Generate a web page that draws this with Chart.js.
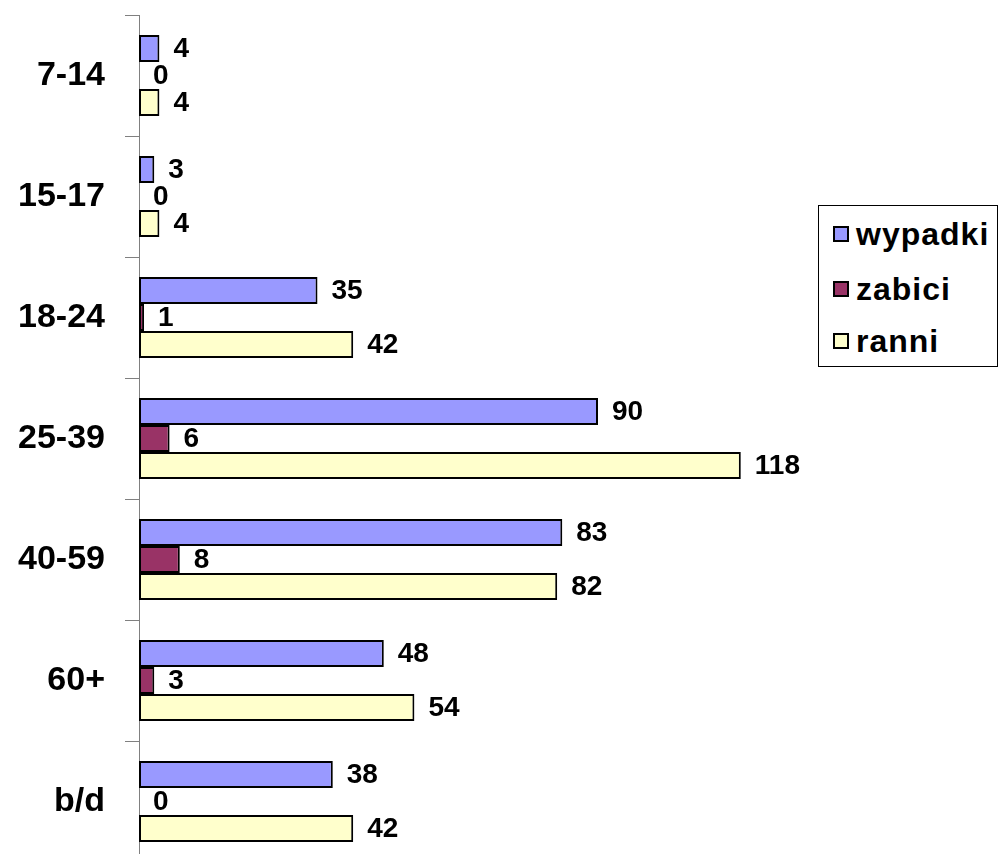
<!DOCTYPE html>
<html>
<head>
<meta charset="utf-8">
<script src="https://cdn.jsdelivr.net/npm/chart.js@4/dist/chart.umd.min.js"></script>
<style>
    html, body { margin: 0; padding: 0; background: #fff; overflow: hidden; width: 1000px; height: 854px; }
    #wrap { position: relative; width: 1000px; height: 854px; }
    #chart { position: absolute; left: 0; top: 0; }
    #legend {
        position: absolute; left: 818px; top: 205px; width: 180px; height: 162px;
        border: 1px solid #000; background: #fff; box-sizing: border-box;
        font-family: Arial, "Liberation Sans", sans-serif; font-weight: bold; font-size: 32px;
        letter-spacing: 1px;
    }
    .item { position: absolute; left: 14px; display: flex; align-items: center; height: 36px; }
    .swatch { width: 12px; height: 12px; border: 2px solid #000; margin-right: 7px; }
</style>
</head>
<body>
<div id="wrap">
    <canvas id="chart" width="1000" height="870"></canvas>
    <div id="legend"></div>
</div>
<script>
const categories = ['7-14', '15-17', '18-24', '25-39', '40-59', '60+', 'b/d'];
const seriesNames = ['wypadki', 'zabici', 'ranni'];
const wypadki = [4, 3, 35, 90, 83, 48, 38];
const zabici = [0, 0, 1, 6, 8, 3, 0];
const ranni = [4, 4, 42, 118, 82, 54, 42];
const colors = ['#9999FF', '#993366', '#FFFFCC'];

document.addEventListener('DOMContentLoaded', () => {
    const legend = document.getElementById('legend');
    const rowTops = [10, 65, 117];
    seriesNames.forEach((name, i) => {
        const item = document.createElement('div');
        item.className = 'item';
        item.style.top = rowTops[i] + 'px';
        item.innerHTML = `<span class="swatch" style="background:${colors[i]}"></span><span>${name}</span>`;
        legend.appendChild(item);
    });

    // draws the value next to the end of each bar
    const valueLabels = {
        id: 'valueLabels',
        afterDatasetsDraw(chart) {
            const ctx = chart.ctx;
            ctx.save();
            ctx.font = 'bold 28px Arial, "Liberation Sans", sans-serif';
            ctx.fillStyle = '#000';
            ctx.textAlign = 'left';
            ctx.textBaseline = 'middle';
            chart.data.datasets.forEach((ds, i) => {
                chart.getDatasetMeta(i).data.forEach((bar, j) => {
                    ctx.fillText(String(ds.data[j]), bar.x + 14, bar.y + 1);
                });
            });
            ctx.restore();
        }
    };

    const ctx = document.getElementById('chart').getContext('2d');
    new Chart(ctx, {
        type: 'bar',
        data: {
            labels: categories,
            datasets: [
                { label: seriesNames[0], data: wypadki, backgroundColor: colors[0] },
                { label: seriesNames[1], data: zabici, backgroundColor: colors[1] },
                { label: seriesNames[2], data: ranni, backgroundColor: colors[2] },
            ],
        },
        options: {
            indexAxis: 'y',
            responsive: false,
            animation: false,
            layout: { padding: { left: 0, top: 15, right: 45, bottom: 8 } },
            datasets: {
                bar: {
                    borderColor: '#000',
                    borderWidth: 2,
                    borderSkipped: false,
                    categoryPercentage: 0.67,
                    barPercentage: 1.0,
                },
            },
            plugins: {
                legend: { display: false },
                tooltip: { enabled: false },
            },
            scales: {
                x: {
                    display: false,
                    min: 0,
                    max: 160,
                },
                y: {
                    afterFit: (scale) => {
                        scale.width = 139;
                        scale.paddingTop = 0;
                        scale.paddingBottom = 0;
                    },
                    grid: {
                        offset: true,
                        drawOnChartArea: false,
                        drawTicks: true,
                        tickLength: 14,
                        color: '#808080',
                    },
                    border: { display: true, color: '#808080', width: 1 },
                    ticks: {
                        padding: 20,
                        color: '#000',
                        font: { family: 'Arial, "Liberation Sans", sans-serif', size: 34, weight: 'bold' },
                    },
                },
            },
        },
        plugins: [valueLabels],
    });
});
</script>
</body>
</html>
